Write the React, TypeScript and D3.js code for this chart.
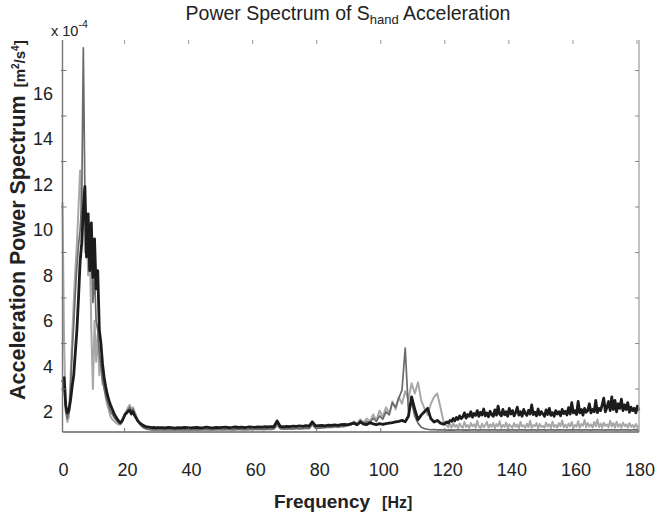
import React from 'react';
import * as d3 from 'd3';

// x axis tick values (Hz) and y labels (x 1e-4 m^2/s^4)
const xTickValues = [0, 20, 40, 60, 80, 100, 120, 140, 160, 180];
const yLabelValues = [2, 4, 6, 8, 10, 12, 14, 16];
const yTickMarkValues = [3, 5, 7, 9, 11, 13, 15, 17];

// Band A: 0..30 Hz every 0.5 Hz
const blackA = [
  3.3, 3.5, 2.3, 1.95, 2.05, 2.5, 3.1, 3.6, 4.6, 5.6,
  7.0, 8.6, 9.4, 10.9, 11.9, 8.8, 10.7, 8.2, 10.3, 7.9,
  9.6, 7.4, 8.2, 5.6, 5.0, 4.1, 3.5, 3.1, 2.75, 2.5,
  2.3, 2.12, 1.95, 1.82, 1.7, 1.6, 1.52, 1.58, 1.72, 1.88,
  1.95, 2.02, 2.06, 1.9, 2.0, 1.84, 1.72, 1.6, 1.53, 1.47,
  1.42, 1.38, 1.35, 1.33, 1.32, 1.31, 1.3, 1.31, 1.29, 1.3,
  1.3,
];
// Band B: 31..119 Hz every 1 Hz
const blackB = [
  1.3, 1.29, 1.31, 1.3, 1.28, 1.3, 1.29, 1.31, 1.3, 1.29,
  1.3, 1.31, 1.29, 1.3, 1.32, 1.3, 1.29, 1.31, 1.3, 1.31,
  1.32, 1.3, 1.31, 1.33, 1.31, 1.32, 1.3, 1.33, 1.32, 1.31,
  1.33, 1.32, 1.34, 1.33, 1.35, 1.34, 1.6, 1.35, 1.34, 1.36,
  1.35, 1.37, 1.36, 1.38, 1.36, 1.39, 1.37, 1.56, 1.38, 1.39,
  1.4, 1.38, 1.41, 1.4, 1.42, 1.4, 1.43, 1.45, 1.42, 1.47,
  1.5, 1.43, 1.55, 1.46, 1.44, 1.52, 1.47, 1.43, 1.48, 1.45,
  1.48, 1.5, 1.52, 1.55, 1.58, 1.62, 1.56, 1.8, 2.65, 2.1,
  1.65, 1.85, 2.0, 2.15, 1.7, 1.55, 1.62, 1.5, 1.45,
];
// Band C: 120..180 Hz every 0.5 Hz
const blackC = [
  1.55, 1.5, 1.62, 1.58, 1.7, 1.6, 1.75, 1.66, 1.82, 1.7,
  1.78, 1.95, 1.72, 1.88, 1.8, 2.0, 1.76, 1.92, 1.84, 2.05,
  1.8, 1.98, 1.86, 2.12, 1.82, 1.95, 1.78, 2.02, 1.88, 1.8,
  2.08, 1.85, 2.25, 1.9, 1.82, 2.1, 1.87, 2.0, 1.8, 2.15,
  1.9, 2.05, 1.82, 1.96, 2.2, 1.85, 2.0, 1.8, 2.1, 1.92,
  1.84, 2.06, 1.9, 2.3, 1.88, 1.98, 1.82, 2.12, 1.86, 2.0,
  1.9, 1.8, 2.08, 1.88, 2.15, 1.84, 1.96, 1.8, 2.05, 1.9,
  2.0, 1.82, 2.1, 1.92, 2.02, 1.86, 2.18, 1.9, 2.4, 1.95,
  2.05, 1.88, 2.45, 1.95, 2.1, 1.85, 2.15, 1.98, 2.05, 2.35,
  1.95, 2.1, 2.0, 2.5, 1.96, 2.15, 2.05, 2.3, 2.6, 2.0,
  2.2, 2.45, 2.05, 2.65, 2.1, 2.5, 2.0, 2.35, 2.15, 2.55,
  2.05, 2.3, 2.1, 2.4, 1.98, 2.2, 2.05, 2.15, 1.95, 2.25,
  2.05,
];

// Dark gray: band A (0..30 step 0.5) and band D (31..180 step 1)
const darkA = [
  2.9, 3.1, 2.0, 1.7, 2.0, 3.0, 4.6, 5.8, 7.2, 8.4,
  9.3, 10.0, 11.2, 18.0, 11.6, 9.0, 10.0, 8.2, 9.4, 6.8,
  8.0, 6.0, 5.6, 4.6, 4.0, 3.4, 3.0, 2.7, 2.45, 2.25,
  2.0, 1.9, 1.78, 1.68, 1.6, 1.52, 1.46, 1.52, 1.68, 1.85,
  2.0, 2.1, 2.2, 2.02, 2.12, 1.92, 1.76, 1.6, 1.48, 1.4,
  1.33, 1.29, 1.26, 1.24, 1.23, 1.22, 1.21, 1.22, 1.21, 1.2,
  1.21,
];
const darkD = [
  1.21, 1.2, 1.22, 1.21, 1.2, 1.22, 1.21, 1.2, 1.21, 1.22,
  1.21, 1.2, 1.22, 1.21, 1.23, 1.21, 1.22, 1.21, 1.23, 1.22,
  1.22, 1.23, 1.21, 1.22, 1.24, 1.22, 1.23, 1.22, 1.24, 1.23,
  1.23, 1.24, 1.22, 1.24, 1.23, 1.25, 1.48, 1.26, 1.24, 1.25,
  1.26, 1.24, 1.27, 1.25, 1.26, 1.28, 1.26, 1.47, 1.27, 1.28,
  1.29, 1.3, 1.32, 1.31, 1.34, 1.32, 1.36, 1.35, 1.4, 1.42,
  1.52, 1.44, 1.62, 1.47, 1.57, 1.52, 1.72, 1.57, 1.82, 1.67,
  2.0, 1.86, 2.4, 2.2, 2.6, 2.95, 4.8, 2.05, 2.4, 1.8,
  1.5, 1.32, 1.26, 1.23, 1.21, 1.22, 1.2, 1.21, 1.2, 1.19,
  1.2, 1.19, 1.2, 1.21, 1.19, 1.2, 1.19, 1.21, 1.2, 1.19,
  1.2, 1.21, 1.19, 1.2, 1.21, 1.19, 1.2, 1.2, 1.19, 1.21,
  1.2, 1.19, 1.21, 1.2, 1.19, 1.2, 1.21, 1.19, 1.2, 1.2,
  1.19, 1.21, 1.2, 1.19, 1.2, 1.21, 1.19, 1.2, 1.21, 1.2,
  1.2, 1.19, 1.21, 1.2, 1.19, 1.2, 1.21, 1.2, 1.19, 1.2,
  1.21, 1.2, 1.19, 1.2, 1.21, 1.2, 1.19, 1.2, 1.2, 1.19,
];

// Light gray: bands A, B, C
const lightA = [
  11.2, 5.0, 2.1, 1.55, 1.8, 3.4, 5.2, 6.8, 8.2, 9.4,
  11.0, 12.6, 10.2, 11.8, 9.0, 10.4, 8.0, 9.6, 5.6, 3.0,
  6.0, 4.2, 5.4, 3.6, 4.4, 3.2, 3.6, 2.6, 2.3, 2.05,
  1.78, 1.68, 1.6, 1.54, 1.48, 1.44, 1.43, 1.52, 1.7, 1.9,
  2.05, 2.2, 2.3, 2.1, 2.2, 2.0, 1.84, 1.64, 1.5, 1.4,
  1.33, 1.28, 1.25, 1.23, 1.22, 1.21, 1.2, 1.21, 1.2, 1.21,
  1.2,
];
const lightB = [
  1.2, 1.21, 1.19, 1.2, 1.21, 1.2, 1.19, 1.21, 1.2, 1.19,
  1.2, 1.21, 1.2, 1.22, 1.2, 1.21, 1.2, 1.22, 1.21, 1.2,
  1.21, 1.22, 1.2, 1.21, 1.23, 1.21, 1.22, 1.21, 1.23, 1.22,
  1.22, 1.23, 1.22, 1.24, 1.22, 1.25, 1.38, 1.26, 1.24, 1.25,
  1.26, 1.25, 1.28, 1.26, 1.27, 1.29, 1.27, 1.42, 1.3, 1.29,
  1.31, 1.33, 1.35, 1.33, 1.38, 1.36, 1.42, 1.4, 1.47, 1.45,
  1.58, 1.48, 1.66, 1.52, 1.7, 1.58, 1.88, 1.62, 2.05, 1.78,
  2.2, 1.92, 2.45, 2.1, 2.65, 2.35, 2.9, 2.55, 3.25, 2.8,
  3.3, 2.5, 2.15, 1.85, 2.35, 2.65, 2.8, 2.2, 1.55,
];
const lightC = [
  1.38, 1.32, 1.45, 1.3, 1.5, 1.34, 1.42, 1.28, 1.48, 1.35,
  1.3, 1.55, 1.33, 1.42, 1.28, 1.5, 1.36, 1.45, 1.3, 1.6,
  1.35, 1.28, 1.48, 1.32, 1.4, 1.55, 1.3, 1.44, 1.34, 1.5,
  1.28, 1.46, 1.36, 1.58, 1.3, 1.42, 1.33, 1.52, 1.29, 1.45,
  1.36, 1.3, 1.5, 1.34, 1.44, 1.28, 1.55, 1.35, 1.4, 1.3,
  1.48, 1.33, 1.6, 1.3, 1.42, 1.36, 1.5, 1.28, 1.46, 1.34,
  1.38, 1.3, 1.52, 1.35, 1.45, 1.29, 1.56, 1.33, 1.42, 1.3,
  1.5, 1.36, 1.62, 1.32, 1.44, 1.3, 1.48, 1.35, 1.55, 1.3,
  1.42, 1.34, 1.58, 1.3, 1.46, 1.38, 1.64, 1.32, 1.5, 1.35,
  1.45, 1.3, 1.55, 1.36, 1.66, 1.33, 1.48, 1.3, 1.52, 1.38,
  1.44, 1.32, 1.6, 1.35, 1.5, 1.3, 1.56, 1.34, 1.46, 1.3,
  1.52, 1.36, 1.45, 1.3, 1.5, 1.34, 1.42, 1.3, 1.46, 1.33,
  1.38,
];

// Band definitions: [start Hz, step Hz]
const BAND_A: [number, number] = [0, 0.5];
const BAND_B: [number, number] = [31, 1];
const BAND_C: [number, number] = [120, 0.5];
const BAND_D: [number, number] = [31, 1];

const FONT = "'Liberation Sans', Arial, Helvetica, sans-serif";

function bandPoints(vals: number[], band: [number, number]): [number, number][] {
  return vals.map((v, i) => [band[0] + i * band[1], v] as [number, number]);
}

export default function App() {
  const W = 657;
  const H = 513;
  const left = 62.5, right = 639, top = 40, bottom = 432;
  const x = d3.scaleLinear().domain([0, 180]).range([left, right]);
  const y = d3.scaleLinear().domain([1.11, 18.34]).range([bottom, top]);
  const line = d3
    .line<[number, number]>()
    .x((d) => x(d[0]))
    .y((d) => y(d[1]));

  const series = [
    {
      pts: [...bandPoints(lightA, BAND_A), ...bandPoints(lightB, BAND_B), ...bandPoints(lightC, BAND_C)],
      color: '#a8a8a8',
      w: 2,
    },
    {
      pts: [...bandPoints(darkA, BAND_A), ...bandPoints(darkD, BAND_D)],
      color: '#6b6b6b',
      w: 1.7,
    },
    {
      pts: [...bandPoints(blackA, BAND_A), ...bandPoints(blackB, BAND_B), ...bandPoints(blackC, BAND_C)],
      color: '#1c1c1c',
      w: 2.8,
    },
  ];

  return (
    <svg
      width={W}
      height={H}
      style={{ position: 'absolute', left: 0, top: 0, background: '#fff' }}
      fontFamily={FONT}
    >
      <defs>
        <linearGradient id="topGrad" x1="0" x2="1" y1="0" y2="0">
          <stop offset="0" stopColor="#666" />
          <stop offset="0.33" stopColor="#777" />
          <stop offset="0.34" stopColor="#999" />
          <stop offset="0.6" stopColor="#aaa" />
          <stop offset="0.61" stopColor="#ddd" />
          <stop offset="0.78" stopColor="#e6e6e6" />
          <stop offset="0.79" stopColor="#fff" />
          <stop offset="1" stopColor="#fff" />
        </linearGradient>
      </defs>

      {/* Title */}
      <text x={348} y={20} textAnchor="middle" fontSize={19.5} fill="#222">
        Power Spectrum of S
        <tspan fontSize={13} dy={4}>hand</tspan>
        <tspan dy={-4}> Acceleration</tspan>
      </text>

      {/* exponent */}
      <text x={51} y={36} fontSize={14.5} fill="#222">
        x 10
        <tspan fontSize={10.5} dy={-8}>-4</tspan>
      </text>

      {/* data */}
      {series.map((s, i) => (
        <path
          key={i}
          d={line(s.pts) || ''}
          fill="none"
          stroke={s.color}
          strokeWidth={s.w}
          strokeLinejoin="round"
        />
      ))}

      {/* frame */}
      <line x1={left} x2={right} y1={top} y2={top} stroke="url(#topGrad)" strokeWidth={1.2} />
      <line x1={left} x2={left} y1={top} y2={bottom} stroke="#777" strokeWidth={1.4} />
      <line x1={right} x2={right} y1={top} y2={bottom} stroke="#a8a8a8" strokeWidth={1.4} />
      <line x1={left} x2={right} y1={bottom} y2={bottom} stroke="#666" strokeWidth={1.4} />

      {/* x ticks */}
      {xTickValues.slice(1).map((v) => (
        <g key={'xt' + v}>
          <line x1={x(v) - 2} x2={x(v) - 2} y1={bottom} y2={bottom - 4} stroke="#777" />
          <line x1={x(v) - 2} x2={x(v) - 2} y1={top} y2={top + 4} stroke="#999" />
        </g>
      ))}
      {xTickValues.map((v) => (
        <text key={'xl' + v} x={x(v) + 1} y={476} textAnchor="middle" fontSize={18} fill="#222">
          {v}
        </text>
      ))}

      {/* y ticks */}
      {yTickMarkValues.map((v) => (
        <g key={'yt' + v}>
          <line x1={left - 1.5} x2={left + 4} y1={y(v)} y2={y(v)} stroke="#777" />
          <line x1={right - 4} x2={right} y1={y(v)} y2={y(v)} stroke="#888" />
        </g>
      ))}
      {yLabelValues.map((v) => (
        <text key={'yl' + v} x={53} y={y(v) + 6.5} textAnchor="end" fontSize={18} fill="#222">
          {v}
        </text>
      ))}

      {/* y axis label */}
      <text
        transform="translate(25,400) rotate(-90)"
        fontSize={21.5}
        fontWeight="bold"
        fill="#222"
      >
        Acceleration Power Spectrum
        <tspan fontSize={15} dx={8}>[m</tspan>
        <tspan fontSize={10} dy={-6}>2</tspan>
        <tspan fontSize={15} dy={6}>/s</tspan>
        <tspan fontSize={10} dy={-6}>4</tspan>
        <tspan fontSize={15} dy={6}>]</tspan>
      </text>

      {/* x axis label */}
      <text x={274} y={508} fontSize={19} fontWeight="bold" fill="#222">
        Frequency
        <tspan fontSize={16} dx={12}>[Hz]</tspan>
      </text>
    </svg>
  );
}
